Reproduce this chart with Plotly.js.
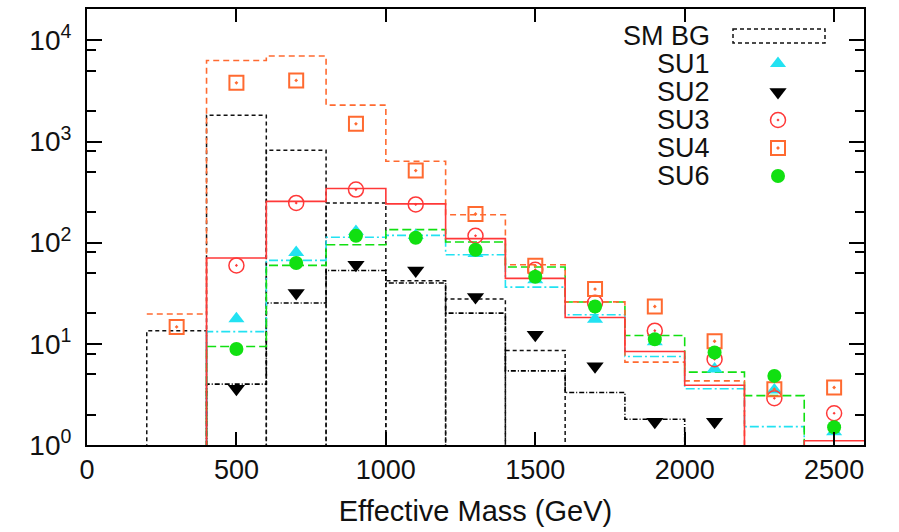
<!DOCTYPE html>
<html>
<head>
<meta charset="utf-8">
<script src="https://cdn.plot.ly/plotly-3.0.1.min.js"></script>
<style>
  html, body { margin: 0; padding: 0; background: #fff; }
  #chart { width: 899px; height: 532px; }
</style>
</head>
<body>
<div id="chart"></div>
<script>
// ---- data ----
const binCenters = [300, 500, 700, 900, 1100, 1300, 1500, 1700, 1900, 2100, 2300, 2500];
const binWidth = 200;

// histograms (0 = below the visible range)
const smbgHist = [13.5, 1820, 820, 247, 42, 27.7, 8.6, 0, 0, 0, 0, 0];
const su1Hist  = [0, 13.2, 66.8, 113, 118, 76, 36.4, 19.4, 7.5, 3.6, 1.52, 0];
const su2Hist  = [0, 4.0, 25.3, 53, 40, 20.1, 5.4, 3.3, 1.8, 0, 0, 0];
const su3Hist  = [0, 70.5, 256, 343, 242, 109.6, 44.4, 18.2, 8.4, 3.9, 0, 1.1];
const su4Hist  = [19.7, 6320, 7000, 2290, 638, 189, 60.5, 26, 6.6, 4.3, 0, 0];
const su6Hist  = [0, 9.4, 59.6, 95.5, 134.5, 101.6, 57.5, 25.9, 12.1, 5.25, 3.08, 0];

// point values (null = no point)
const su1Pts = [null, 17.7, 80, 129, 118, 78, 43, 17.5, 10.5, 5.65, 3.5, 1.35];
const su2Pts = [null, 3.6, 31.8, 60.5, 53, 29, 12.3, 6.0, 1.7, 1.7, null, null];
const su3Pts = [null, 59.6, 247, 335, 239, 117, 54, 25.5, 13.5, 7.06, 2.9, 2.06];
const su4Pts = [14.7, 3800, 4020, 1497, 516, 192, 59, 34.8, 23.4, 10.6, 3.56, 3.7];
const su6Pts = [null, 8.9, 63, 117, 112, 85, 46, 23.4, 11.1, 8.2, 4.82, 1.5];

const seriesNames = ['SM BG', 'SU1', 'SU2', 'SU3', 'SU4', 'SU6'];
const yTickVals = [1, 10, 100, 1000, 10000];
const yTickText = ['10<sup>0</sup>', '10<sup>1</sup>', '10<sup>2</sup>', '10<sup>3</sup>', '10<sup>4</sup>'];
const yMinorVals = [2, 5, 8, 20, 50, 80, 200, 500, 800, 2000, 5000, 8000, 20000];
const xTickVals = [0, 500, 1000, 1500, 2000, 2500];

// ---- styles ----
const FONT = 'Liberation Sans, Arial, Helvetica, sans-serif';
const C = {
  smbg: '#111111', su1: '#22E2F2', su2: '#000000',
  su3: '#FF3838', su4: '#FF6A30', su6: '#11E011'
};
const FLOOR = 0.1; // drawn below the axis, clipped

function stepXY(vals) {
  const xs = [], ys = [];
  for (let i = 0; i < vals.length; i++) {
    xs.push(binCenters[i] - binWidth / 2);
    ys.push(vals[i] > 0 ? vals[i] : FLOOR);
  }
  const last = vals.length - 1;
  xs.push(binCenters[last] + binWidth / 2);
  ys.push(vals[last] > 0 ? vals[last] : FLOOR);
  return {x: xs, y: ys};
}
function boxXY(vals) {
  const xs = [], ys = [];
  for (let i = 0; i < vals.length; i++) {
    if (!(vals[i] > 0)) continue;
    const x0 = binCenters[i] - binWidth / 2, x1 = binCenters[i] + binWidth / 2;
    xs.push(x0, x0, x1, x1, null);
    ys.push(FLOOR, vals[i], vals[i], FLOOR, null);
  }
  return {x: xs, y: ys};
}
function pts(vals) {
  const xs = [], ys = [];
  vals.forEach((v, i) => { if (v !== null) { xs.push(binCenters[i]); ys.push(v); } });
  return {x: xs, y: ys};
}

const traces = [];
const sb = boxXY(smbgHist);
traces.push({x: sb.x, y: sb.y, mode: 'lines', connectgaps: false, hoverinfo: 'skip',
  line: {color: C.smbg, width: 1.5, dash: '4px,3px'}, showlegend: false});

function stepTrace(vals, color, dash) {
  const s = stepXY(vals);
  return {x: s.x, y: s.y, mode: 'lines', line: {shape: 'hv', color: color, width: 1.6, dash: dash},
    showlegend: false, hoverinfo: 'skip'};
}
traces.push(stepTrace(su2Hist, C.su2, '5px,2px,1px,2px'));
traces.push(stepTrace(su1Hist, C.su1, '9px,3px,2px,3px'));
traces.push(stepTrace(su6Hist, C.su6, '9px,4px'));
traces.push(stepTrace(su4Hist, C.su4, '6px,4px'));
traces.push(stepTrace(su3Hist, C.su3, 'solid'));

function ptTrace(vals, marker) {
  const p = pts(vals);
  return {x: p.x, y: p.y, mode: 'markers', marker: marker, showlegend: false, cliponaxis: true};
}
const mk = {
  su1: {symbol: 'triangle-up', size: 14, color: C.su1},
  su2: {symbol: 'triangle-down', size: 15, color: C.su2},
  su3: {symbol: 'circle-open-dot', size: 15, color: C.su3, line: {width: 1.5, color: C.su3}},
  su4: {symbol: 'square-open-dot', size: 14, color: C.su4, line: {width: 2, color: C.su4}},
  su6: {symbol: 'circle', size: 14, color: C.su6}
};
traces.push(ptTrace(su1Pts, mk.su1));
traces.push(ptTrace(su2Pts, mk.su2));
traces.push(ptTrace(su3Pts, mk.su3));
traces.push(ptTrace(su4Pts, mk.su4));
traces.push(ptTrace(su6Pts, mk.su6));

// ---- hand-made legend (text left, symbol right), in pixel units on an overlay axis ----
const legRowY = [36, 63.5, 92, 120, 148, 176];
const legTextX = 711, legSymX = 778;
const legMarkers = [mk.su1, mk.su2, mk.su3, mk.su4, mk.su6];
legMarkers.forEach((m, k) => {
  traces.push({x: [legSymX], y: [legRowY[k + 1]], xaxis: 'x2', yaxis: 'y2', mode: 'markers',
    marker: m, showlegend: false, hoverinfo: 'skip'});
});
const annotations = seriesNames.map((name, k) => ({
  xref: 'x2', yref: 'y2', x: legTextX, y: legRowY[k], text: name, showarrow: false,
  xanchor: 'right', yanchor: 'middle', borderpad: 0,
  font: {family: FONT, size: 27, color: '#111'}
}));
const shapes = [{
  type: 'rect', xref: 'x2', yref: 'y2', x0: 733, x1: 825, y0: 29, y1: 43,
  line: {color: C.smbg, width: 1.5, dash: '4px,3px'}, fillcolor: 'rgba(0,0,0,0)'
}];

const layout = {
  width: 899, height: 532,
  margin: {l: 87, r: 35, t: 9, b: 87},
  paper_bgcolor: '#fff', plot_bgcolor: '#fff',
  showlegend: false,
  font: {family: FONT, color: '#111'},
  xaxis: {
    range: [0, 2600], tickvals: xTickVals, ticks: 'inside', ticklen: 13, tickwidth: 2,
    tickcolor: '#000', showline: true, linecolor: '#000', linewidth: 2, mirror: 'ticks',
    showgrid: false, zeroline: false, tickfont: {family: FONT, size: 27, color: '#111'},
    title: {text: 'Effective Mass (GeV)', font: {family: FONT, size: 29, color: '#111'}, standoff: 16}
  },
  yaxis: {
    type: 'log', range: [0, 4.31], tickvals: yTickVals, ticktext: yTickText,
    ticks: 'inside', ticklen: 15, tickwidth: 2, tickcolor: '#000',
    minor: {tickvals: yMinorVals, ticks: 'inside', ticklen: 9, tickwidth: 2, tickcolor: '#000'},
    showline: true, linecolor: '#000', linewidth: 2, mirror: 'ticks',
    showgrid: false, zeroline: false, tickfont: {family: FONT, size: 28, color: '#111'},
    ticklabelstandoff: 8
  },
  xaxis2: {overlaying: 'x', anchor: 'y2', range: [87, 864], visible: false, fixedrange: true},
  yaxis2: {overlaying: 'y', anchor: 'x2', range: [445, 9], visible: false, fixedrange: true},
  annotations: annotations,
  shapes: shapes
};

Plotly.newPlot('chart', traces, layout, {displayModeBar: false, staticPlot: true});
</script>
</body>
</html>
